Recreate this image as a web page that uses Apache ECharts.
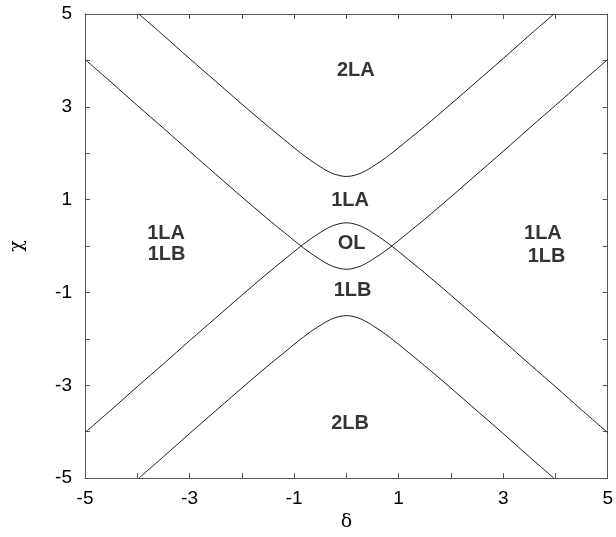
<!DOCTYPE html>
<html>
<head>
<meta charset="utf-8">
<script src="https://cdn.jsdelivr.net/npm/echarts@6/dist/echarts.min.js"></script>
<style>html,body{margin:0;padding:0;background:#fff;}#c{width:616px;height:537px;}</style>
</head>
<body>
<div id="c"></div>
<script>
// Upper hyperbola branch (2LA boundary)
const upperDelta = [-3.97,-3.5,-3,-2.5,-2,-1.5,-1.25,-1,-0.75,-0.5,-0.35,-0.2,0,0.2,0.35,0.5,0.75,1,1.25,1.5,2,2.5,3,3.5,3.97];
const upperChi   = [5.0,4.54,4.04,3.55,3.06,2.58,2.35,2.12,1.90,1.71,1.61,1.54,1.50,1.54,1.61,1.71,1.90,2.12,2.35,2.58,3.06,3.55,4.04,4.54,5.0];
// Lower hyperbola branch (2LB boundary)
const lowerDelta = [-3.97,-3.5,-3,-2.5,-2,-1.5,-1.25,-1,-0.75,-0.5,-0.35,-0.2,0,0.2,0.35,0.5,0.75,1,1.25,1.5,2,2.5,3,3.5,3.97];
const lowerChi   = [-5.0,-4.54,-4.04,-3.55,-3.06,-2.58,-2.35,-2.12,-1.90,-1.71,-1.61,-1.54,-1.50,-1.54,-1.61,-1.71,-1.90,-2.12,-2.35,-2.58,-3.06,-3.55,-4.04,-4.54,-5.0];
// Curve with dip at chi = -0.5
const dipDelta = [-5,-4.5,-4,-3.5,-3,-2.5,-2,-1.5,-1.25,-1,-0.75,-0.5,-0.35,-0.2,0,0.2,0.35,0.5,0.75,1,1.25,1.5,2,2.5,3,3.5,4,4.5,5];
const dipChi   = [4.02,3.53,3.03,2.54,2.04,1.55,1.06,0.58,0.35,0.12,-0.10,-0.29,-0.39,-0.46,-0.50,-0.46,-0.39,-0.29,-0.10,0.12,0.35,0.58,1.06,1.55,2.04,2.54,3.03,3.53,4.02];
// Curve with bump at chi = 0.5
const bumpDelta = [-5,-4.5,-4,-3.5,-3,-2.5,-2,-1.5,-1.25,-1,-0.75,-0.5,-0.35,-0.2,0,0.2,0.35,0.5,0.75,1,1.25,1.5,2,2.5,3,3.5,4,4.5,5];
const bumpChi   = [-4.02,-3.53,-3.03,-2.54,-2.04,-1.55,-1.06,-0.58,-0.35,-0.12,0.10,0.29,0.39,0.46,0.50,0.46,0.39,0.29,0.10,-0.12,-0.35,-0.58,-1.06,-1.55,-2.04,-2.54,-3.03,-3.53,-4.02];
// Region labels
const regionNames = ['2LA','1LA','OL','1LB','2LB','1LA','1LB','1LA','1LB'];
const regionDelta = [0.18,0.07,0.1,0.12,0.07,-3.45,-3.44,3.76,3.83];
const regionChi   = [3.78,0.99,0.05,-0.96,-3.82,0.27,-0.18,0.27,-0.22];
// Axis ticks
const axisMin = -5, axisMax = 5, labelStep = 2;

function pairs(xs, ys){ return xs.map((x,i)=>[x, ys[i]]); }

const lineStyle = {color:'#1a1a1a', width:1};
function curve(xs, ys){
  return {type:'line', data:pairs(xs,ys), showSymbol:false, smooth:0.4,
    lineStyle:lineStyle, silent:true, clip:true, xAxisIndex:0, yAxisIndex:0};
}
const tickFont = {fontFamily:'Liberation Sans, Arial, sans-serif', fontSize:19, color:'#000'};
const axisCommon = {
  type:'value', min:axisMin, max:axisMax, interval:labelStep,
  axisLine:{show:true, onZero:false, lineStyle:{color:'#555', width:1}},
  axisTick:{show:true, inside:true, length:5, lineStyle:{color:'#555'}},
  minorTick:{show:true, splitNumber:2, length:5, lineStyle:{color:'#555'}},
  splitLine:{show:false}
};
const chart = echarts.init(document.getElementById('c'));
chart.setOption({
  animation:false,
  backgroundColor:'#fff',
  grid:{left:76, right:2, top:14, bottom:54},
  xAxis:[
    Object.assign({}, axisCommon, {position:'bottom', name:'δ', nameLocation:'middle', nameGap:34,
      nameTextStyle:{fontFamily:'DejaVu Serif, serif', fontSize:19, color:'#000'},
      axisLabel:Object.assign({margin:11}, tickFont)}),
    Object.assign({}, axisCommon, {position:'top', axisLabel:{show:false}})
  ],
  yAxis:[
    Object.assign({}, axisCommon, {position:'left', name:'χ', nameLocation:'middle', nameGap:58,
      nameTextStyle:{fontFamily:'DejaVu Serif, serif', fontSize:19, color:'#000'},
      axisLabel:Object.assign({margin:13}, tickFont)}),
    Object.assign({}, axisCommon, {position:'right', axisLabel:{show:false}})
  ],
  series:[
    curve(upperDelta, upperChi),
    curve(lowerDelta, lowerChi),
    curve(dipDelta, dipChi),
    curve(bumpDelta, bumpChi),
    {type:'scatter', symbolSize:0, silent:true,
      data:regionNames.map((n,i)=>({value:[regionDelta[i], regionChi[i]], name:n})),
      label:{show:true, position:'inside', formatter:p=>p.name,
        fontFamily:'Liberation Sans, Arial, sans-serif', fontWeight:'bold', fontSize:20, color:'#000'}}
  ]
});
</script>
</body>
</html>
